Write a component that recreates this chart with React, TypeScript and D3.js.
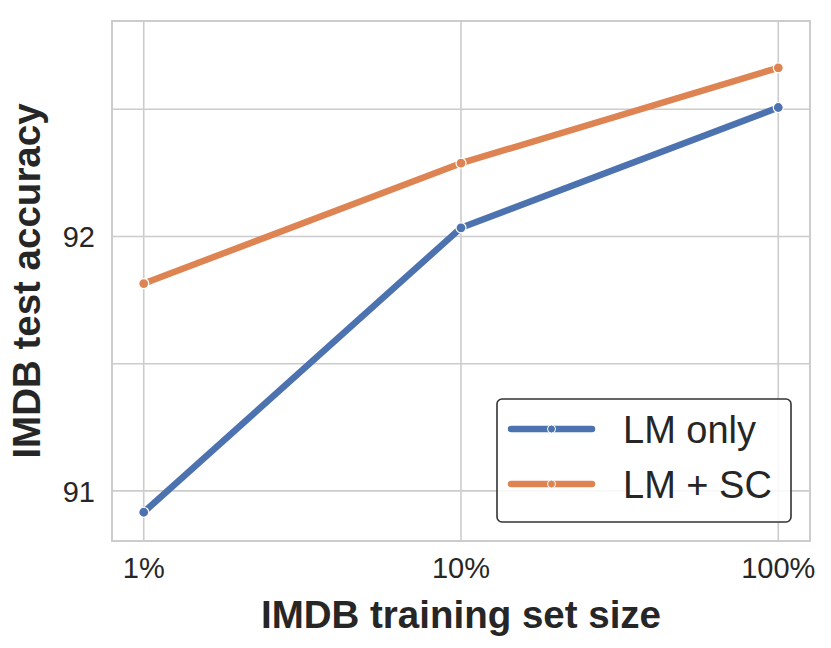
import { useEffect, useRef } from "react";
import * as d3 from "d3";

const W = 831;
const H = 648;
const FONT = "'Liberation Sans', Arial, sans-serif";
const TEXT = "#262626";
const GRID = "#cccccc";

// training set size in %
const sizes = [1, 10, 100];
const sizeLabels = ["1%", "10%", "100%"];
const lmOnly = [90.916, 92.034, 92.507];
const lmSc = [91.815, 92.288, 92.663];
const seriesNames = ["LM only", "LM + SC"];
const seriesColors = ["#4c72b0", "#dd8452"];
const yTicks = [91, 92];
const yGrid = [91, 91.5, 92, 92.5];

const PLOT = { left: 112, right: 810, top: 21, bottom: 541 };

export default function App() {
  const svgRef = useRef<SVGSVGElement>(null);

  useEffect(() => {
    if (!svgRef.current) return;
    const svg = d3.select(svgRef.current);
    svg.selectAll("*").remove();

    const x = d3
      .scaleLog()
      .domain([Math.pow(10, -0.1), Math.pow(10, 2.1)])
      .range([PLOT.left, PLOT.right]);
    const y = d3.scaleLinear().domain([90.803, 92.847]).range([PLOT.bottom, PLOT.top]);

    // grid
    svg
      .append("g")
      .selectAll("line")
      .data(sizes)
      .join("line")
      .attr("x1", (d) => x(d))
      .attr("x2", (d) => x(d))
      .attr("y1", PLOT.top)
      .attr("y2", PLOT.bottom)
      .attr("stroke", GRID)
      .attr("stroke-width", 1.6);
    svg
      .append("g")
      .selectAll("line")
      .data(yGrid)
      .join("line")
      .attr("x1", PLOT.left)
      .attr("x2", PLOT.right)
      .attr("y1", (d) => y(d))
      .attr("y2", (d) => y(d))
      .attr("stroke", GRID)
      .attr("stroke-width", 1.6);

    // frame
    svg
      .append("rect")
      .attr("x", PLOT.left)
      .attr("y", PLOT.top)
      .attr("width", PLOT.right - PLOT.left)
      .attr("height", PLOT.bottom - PLOT.top)
      .attr("fill", "none")
      .attr("stroke", GRID)
      .attr("stroke-width", 2);

    // tick labels
    svg
      .append("g")
      .selectAll("text")
      .data(sizes)
      .join("text")
      .attr("x", (d) => x(d))
      .attr("y", 578)
      .attr("text-anchor", "middle")
      .attr("font-family", FONT)
      .attr("font-size", 29)
      .attr("fill", TEXT)
      .text((_, i) => sizeLabels[i]);
    svg
      .append("g")
      .selectAll("text")
      .data(yTicks)
      .join("text")
      .attr("x", 95)
      .attr("y", (d) => y(d) + 11)
      .attr("text-anchor", "end")
      .attr("font-family", FONT)
      .attr("font-size", 29)
      .attr("fill", TEXT)
      .text((d) => String(d));

    // axis labels
    svg
      .append("text")
      .attr("x", (PLOT.left + PLOT.right) / 2)
      .attr("y", 628)
      .attr("text-anchor", "middle")
      .attr("font-family", FONT)
      .attr("font-weight", "bold")
      .attr("font-size", 38.5)
      .attr("fill", TEXT)
      .text("IMDB training set size");
    svg
      .append("text")
      .attr("transform", `translate(40,${(PLOT.top + PLOT.bottom) / 2}) rotate(-90)`)
      .attr("text-anchor", "middle")
      .attr("font-family", FONT)
      .attr("font-weight", "bold")
      .attr("font-size", 38.5)
      .attr("fill", TEXT)
      .text("IMDB test accuracy");

    // lines
    const line = d3
      .line<number>()
      .x((_, i) => x(sizes[i]))
      .y((d) => y(d));
    [lmOnly, lmSc].forEach((vals, s) => {
      svg
        .append("path")
        .attr("d", line(vals))
        .attr("fill", "none")
        .attr("stroke", seriesColors[s])
        .attr("stroke-width", 6.5)
        .attr("stroke-linejoin", "round");
      svg
        .append("g")
        .selectAll("circle")
        .data(vals)
        .join("circle")
        .attr("cx", (_, i) => x(sizes[i]))
        .attr("cy", (d) => y(d))
        .attr("r", 5)
        .attr("fill", seriesColors[s])
        .attr("stroke", "#fff")
        .attr("stroke-width", 1.2);
    });

    // legend
    const lg = svg.append("g");
    lg.append("rect")
      .attr("x", 497)
      .attr("y", 399)
      .attr("width", 294)
      .attr("height", 123)
      .attr("rx", 5)
      .attr("fill", "#fff")
      .attr("fill-opacity", 0.85)
      .attr("stroke", "#333")
      .attr("stroke-width", 1.6);
    seriesNames.forEach((name, i) => {
      const ly = 429 + i * 55;
      lg.append("line")
        .attr("x1", 511)
        .attr("x2", 592)
        .attr("y1", ly)
        .attr("y2", ly)
        .attr("stroke", seriesColors[i])
        .attr("stroke-width", 6.5)
        .attr("stroke-linecap", "round");
      lg.append("circle")
        .attr("cx", 551.5)
        .attr("cy", ly)
        .attr("r", 4)
        .attr("fill", seriesColors[i])
        .attr("stroke", "#fff")
        .attr("stroke-width", 1);
      lg.append("text")
        .attr("x", 623)
        .attr("y", ly + 14)
        .attr("font-family", FONT)
        .attr("font-size", 38)
        .attr("fill", TEXT)
        .text(name);
    });
  }, []);

  return (
    <svg
      ref={svgRef}
      width={W}
      height={H}
      style={{ position: "absolute", left: 0, top: 0, background: "#fff" }}
    />
  );
}
